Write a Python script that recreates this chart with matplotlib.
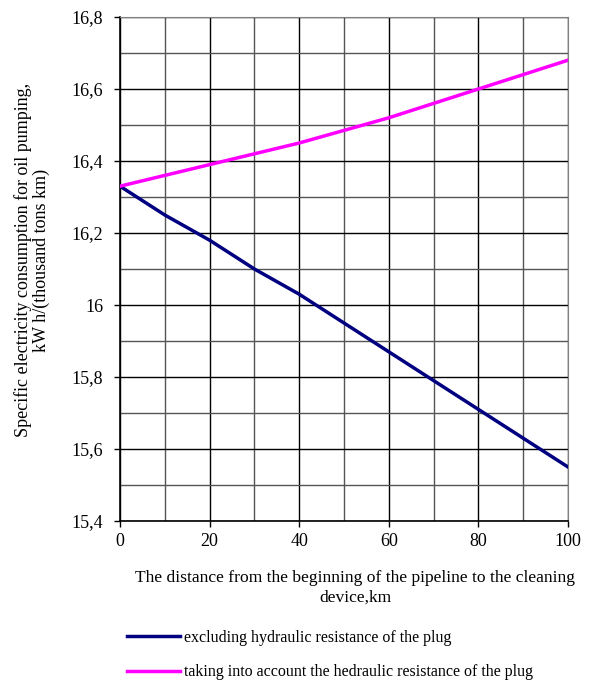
import matplotlib
matplotlib.use("Agg")
import matplotlib.pyplot as plt
from matplotlib.ticker import MultipleLocator, FuncFormatter

plt.rcParams['font.family'] = ['Liberation Serif', 'DejaVu Serif']

distance = [0, 10, 20, 30, 40, 50, 60, 70, 80, 90, 100]
without_plug = [16.33, 16.25, 16.18, 16.10, 16.03, 15.95, 15.87, 15.79, 15.71, 15.63, 15.55]
with_plug = [16.33, 16.36, 16.39, 16.42, 16.45, 16.485, 16.52, 16.56, 16.60, 16.64, 16.68]

label_without = "excluding hydraulic resistance of the plug"
label_with = "taking into account the hedraulic resistance of the plug"

fig = plt.figure(figsize=(5.91, 6.81), dpi=100)
ax = fig.add_axes([120/591, 1 - 521/681, 448/591, 504/681])

ln1, = ax.plot(distance, without_plug, color='#000080', lw=2.5, zorder=3)
ln2, = ax.plot(distance, with_plug, color='#FF00FF', lw=2.5, zorder=3)

ax.set_xlim(0, 100)
ax.set_ylim(15.4, 16.8)
ax.xaxis.set_major_locator(MultipleLocator(20))
ax.xaxis.set_minor_locator(MultipleLocator(10))
ax.yaxis.set_major_locator(MultipleLocator(0.2))
ax.yaxis.set_minor_locator(MultipleLocator(0.1))

def comma(v, pos):
    s = f"{v:.1f}".replace('.', ',')
    if s.endswith(',0'):
        s = s[:-2]
    return s

ax.yaxis.set_major_formatter(FuncFormatter(comma))
ax.grid(which='major', color='black', lw=1.0)
ax.grid(which='minor', color='#555555', lw=1.0)
ax.tick_params(which='major', direction='out', length=4, width=1, labelsize=13)
ax.tick_params(which='minor', length=0)
ax.tick_params(axis='x', pad=5)
ax.tick_params(axis='y', pad=8)

for s in ['top', 'right']:
    ax.spines[s].set_color('#808080')
for s in ['left', 'bottom']:
    ax.spines[s].set_color('black')
    ax.spines[s].set_linewidth(1.2)

fig.text(32/591, 1 - 260/681,
         "Specific electricity consumption for oil pumping,\nkW h/(thousand tons km)",
         rotation=90, ha='center', va='center', fontsize=13, linespacing=1.05)

fig.text(355/591, 1 - 588/681,
         "The distance from the beginning of the pipeline to the cleaning\ndevice,km",
         ha='center', va='center', fontsize=12.6, linespacing=1.3)

fig.legend([ln1, ln2], [label_without, label_with], loc='upper left',
           bbox_to_anchor=(127/591, 1 - 630/681), frameon=False, fontsize=11.5,
           handlelength=3.3, handletextpad=0.25, labelspacing=1.15, borderaxespad=0,
           borderpad=0)

fig.savefig("out.png", dpi=100)
